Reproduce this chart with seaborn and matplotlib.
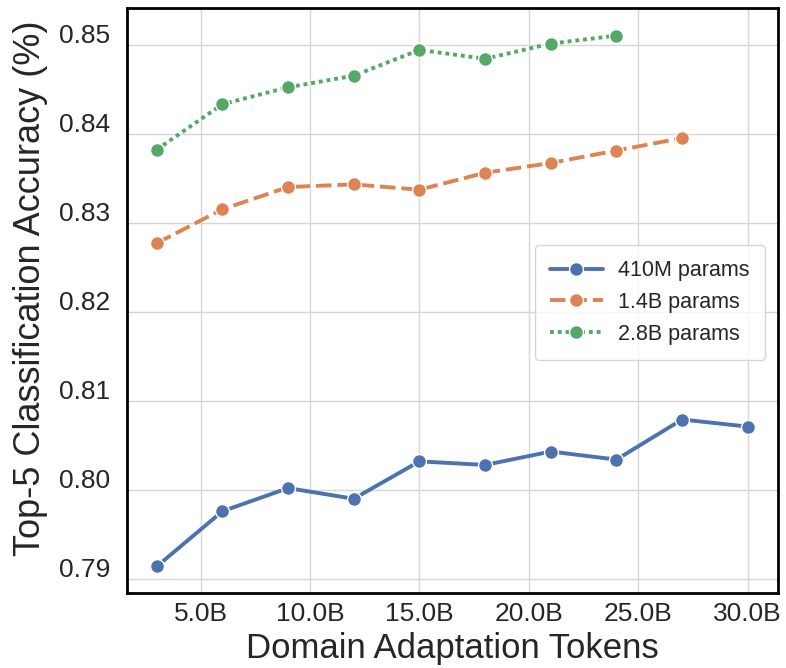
import matplotlib
matplotlib.use("Agg")
import matplotlib.pyplot as plt
import matplotlib.transforms as mtransforms
import numpy as np
import pandas as pd
import seaborn as sns

# Domain adaptation tokens (billions) and top-5 accuracy per model size
tokens_410m = [3, 6, 9, 12, 15, 18, 21, 24, 27, 30]
acc_410m = [0.7914, 0.7976, 0.8002, 0.7990, 0.8032, 0.8028, 0.8043, 0.8034, 0.8079, 0.8071]

tokens_1_4b = [3, 6, 9, 12, 15, 18, 21, 24, 27]
acc_1_4b = [0.8277, 0.8315, 0.8340, 0.8343, 0.8337, 0.8356, 0.8367, 0.8381, 0.8395]

tokens_2_8b = [3, 6, 9, 12, 15, 18, 21, 24]
acc_2_8b = [0.8382, 0.8433, 0.8452, 0.8465, 0.8494, 0.8484, 0.8501, 0.8510]

series_names = ["410M params", "1.4B params", "2.8B params"]
x_ticks = [5, 10, 15, 20, 25, 30]
y_ticks = [0.79, 0.80, 0.81, 0.82, 0.83, 0.84, 0.85]

frames = []
for name, xs, ys in zip(series_names,
                        [tokens_410m, tokens_1_4b, tokens_2_8b],
                        [acc_410m, acc_1_4b, acc_2_8b]):
    frames.append(pd.DataFrame({"tokens": xs, "acc": ys, "model": name}))
df = pd.concat(frames, ignore_index=True)

sns.set_theme(style="whitegrid", palette="deep")
plt.rcParams["font.family"] = ["Liberation Sans", "DejaVu Sans"]

fig = plt.figure(figsize=(7.86, 6.68), dpi=100)
ax = fig.add_axes([0.161, 0.112, 0.8285, 0.876])

sns.lineplot(data=df, x="tokens", y="acc", hue="model", style="model",
             hue_order=series_names, style_order=series_names,
             markers=["o", "o", "o"], dashes=True, linewidth=2.8,
             markersize=10, markeredgecolor="white", markeredgewidth=1.0,
             ax=ax)

ax.set_xlim(1.62, 31.37)
ax.set_ylim(0.7884, 0.8541)
ax.set_xticks(x_ticks)
ax.set_xticklabels([f"{v:.1f}B" for v in x_ticks])
ax.set_yticks(y_ticks)
ax.set_yticklabels([f"{v:.2f}" for v in y_ticks])
ax.tick_params(axis="x", labelsize=19, length=0, pad=6.5, colors="#262626")
ax.tick_params(axis="y", labelsize=19, length=0, pad=12, colors="#262626")

# lift the y tick labels a little above their grid lines
shift = mtransforms.ScaledTranslation(0, 11 / 100, fig.dpi_scale_trans)
for tick in ax.yaxis.get_major_ticks():
    tick.label1.set_transform(tick.label1.get_transform() + shift)

ax.set_xlabel("Domain Adaptation Tokens", fontsize=25, color="#262626")
ax.set_ylabel("Top-5 Classification Accuracy (%)", fontsize=26, color="#262626")
ax.xaxis.set_label_coords(0.5, -0.066)
ax.yaxis.set_label_coords(-0.121, 0.521)

ax.grid(True, color="#d6d6d6", linewidth=1.0)
for spine in ax.spines.values():
    spine.set_color("black")
    spine.set_linewidth(2.0)

ax.legend(loc="upper right", bbox_to_anchor=(0.9805, 0.595), borderaxespad=0,
          fontsize=15.5, handlelength=2.5, labelspacing=0.5, handletextpad=0.7,
          frameon=True, borderpad=0.7)

fig.savefig("out.png", dpi=100)
